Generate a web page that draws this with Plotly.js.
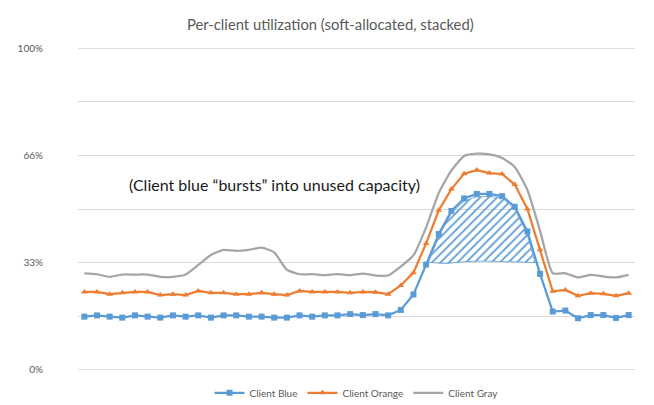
<!DOCTYPE html>
<html>
<head>
<meta charset="utf-8">
<script src="https://cdn.plot.ly/plotly-3.0.1.min.js"></script>
<style>html,body{margin:0;padding:0;background:#fff;}#chart{width:654px;height:405px;}</style>
</head>
<body>
<div id="chart"></div>
<script>
// ---- data ----
const seriesNames = ["Client Blue", "Client Orange", "Client Gray"];
const timeIndex = Array.from({length: 44}, (_, i) => i);
const clientBlue = [16.5,16.9,16.5,16.2,16.9,16.5,16.2,16.9,16.5,16.9,16.2,16.9,
  16.9,16.5,16.5,16.2,16.2,16.9,16.5,16.9,16.9,17.3,
  17.0,17.3,16.9,18.6,23.4,32.7,42.2,49.4,53.3,54.7,54.7,54.0,50.7,43.0,29.8,18.1,18.4,16.0,17.0,17.0,16.1,17.0];
const clientOrange = [24.2,24.2,23.5,23.9,24.2,24.2,23.2,23.5,23.2,24.5,23.9,23.9,
  23.5,23.5,23.9,23.5,23.2,24.5,24.2,24.2,24.2,23.9,
  24.2,24.1,23.5,26.2,30.2,39.3,49.6,56.2,61.0,62.1,61.2,60.9,57.6,50.0,37.3,24.4,24.8,23.0,23.8,23.6,23.0,23.8];
const clientGray = [30.0,29.7,28.9,29.6,29.6,29.6,28.9,28.9,29.6,32.6,35.7,37.3,
  37.0,37.3,38.0,36.5,31.1,29.7,29.7,29.4,29.7,29.4,
  29.9,29.3,29.3,32.1,35.6,44.3,55.0,62.0,66.5,67.2,67.0,65.9,63.1,55.9,43.2,30.0,30.0,28.7,29.5,29.0,28.7,29.5];
// hatched "burst" region outline (x in time index units, y in %)
const burstX = [27.2,28.0,29.0,30.0,31.0,32.0,33.0,34.0,35.0,35.6,34.5,33.0,31.5,30.0,28.5,27.2];
const burstY = [33.4,41.5,48.8,52.5,53.8,53.9,53.5,50.0,41.8,33.3,33.5,33.7,33.8,33.6,33.0,33.4];
const yTickVals = [0,16.667,33.333,50,66.667,83.333,100];
const yTickText = ["0%","","33%","","66%","","100%"];
const titleText = "Per-client utilization (soft-allocated, stacked)";
const noteText = "(Client blue \u201cbursts\u201d into unused capacity)";

const blue = "#5B9BD5", orange = "#ED7D31", gray = "#A5A5A5";
const FONT = "Lato, 'Open Sans', sans-serif";
const GRID = "#D9D9D9";

const traces = [
  {x: burstX, y: burstY, type: "scatter", mode: "lines", fill: "toself",
   fillcolor: "rgba(255,255,255,0)",
   fillpattern: {shape: "/", fgcolor: blue, bgcolor: "rgba(255,255,255,0)", size: 6, solidity: 0.3},
   line: {color: "rgba(91,155,213,0.75)", width: 1}, showlegend: false, hoverinfo: "skip"},
  {x: timeIndex, y: clientBlue, name: seriesNames[0], type: "scatter", mode: "lines+markers",
   line: {color: blue, width: 2.25}, marker: {symbol: "square", size: 6, color: blue}},
  {x: timeIndex, y: clientOrange, name: seriesNames[1], type: "scatter", mode: "lines+markers",
   line: {color: orange, width: 2.25}, marker: {symbol: "triangle-up", size: 6, color: orange}},
  {x: timeIndex, y: clientGray, name: seriesNames[2], type: "scatter", mode: "lines",
   line: {color: gray, width: 2.25, shape: "spline", smoothing: 0.5}}
];

const layout = {
  width: 654, height: 405,
  paper_bgcolor: "#fff", plot_bgcolor: "#fff",
  margin: {l: 78, r: 19, t: 48, b: 35, autoexpand: false},
  font: {family: FONT, color: "#595959"},
  title: {text: titleText, font: {family: FONT, size: 14.8, color: "#595959"},
          x: 0.505, xanchor: "center", y: 0.938, yanchor: "middle", yref: "container"},
  xaxis: {range: [-0.5, 43.5], showticklabels: false, showgrid: false, zeroline: false,
          showline: false, ticks: "", fixedrange: true},
  yaxis: {range: [-0.1, 100.1], tickvals: yTickVals, ticktext: yTickText,
          showgrid: true, gridcolor: GRID, gridwidth: 1, zeroline: false,
          ticks: "outside", ticklen: 32, tickcolor: "rgba(0,0,0,0)",
          tickfont: {family: FONT, size: 10, color: "#595959"}, fixedrange: true},
  shapes: [
    {type: "line", xref: "paper", yref: "y", x0: 0, x1: 1, y0: yTickVals[0], y1: yTickVals[0],
     line: {color: GRID, width: 1}, layer: "below"},
    {type: "line", xref: "paper", yref: "y", x0: 0, x1: 1, y0: yTickVals[6], y1: yTickVals[6],
     line: {color: GRID, width: 1}, layer: "below"}
  ],
  showlegend: true,
  legend: {orientation: "h", x: 0.5, xanchor: "center", y: -0.071, yanchor: "middle",
           font: {family: FONT, size: 10, color: "#595959"}, bgcolor: "rgba(0,0,0,0)"},
  annotations: [{x: 15.0, y: 57.5, xref: "x", yref: "y", text: noteText, showarrow: false,
                 font: {family: FONT, size: 16, color: "#1a1a1a"}, xanchor: "center", yanchor: "middle"}]
};

Plotly.newPlot("chart", traces, layout, {displayModeBar: false, staticPlot: true});
</script>
</body>
</html>
